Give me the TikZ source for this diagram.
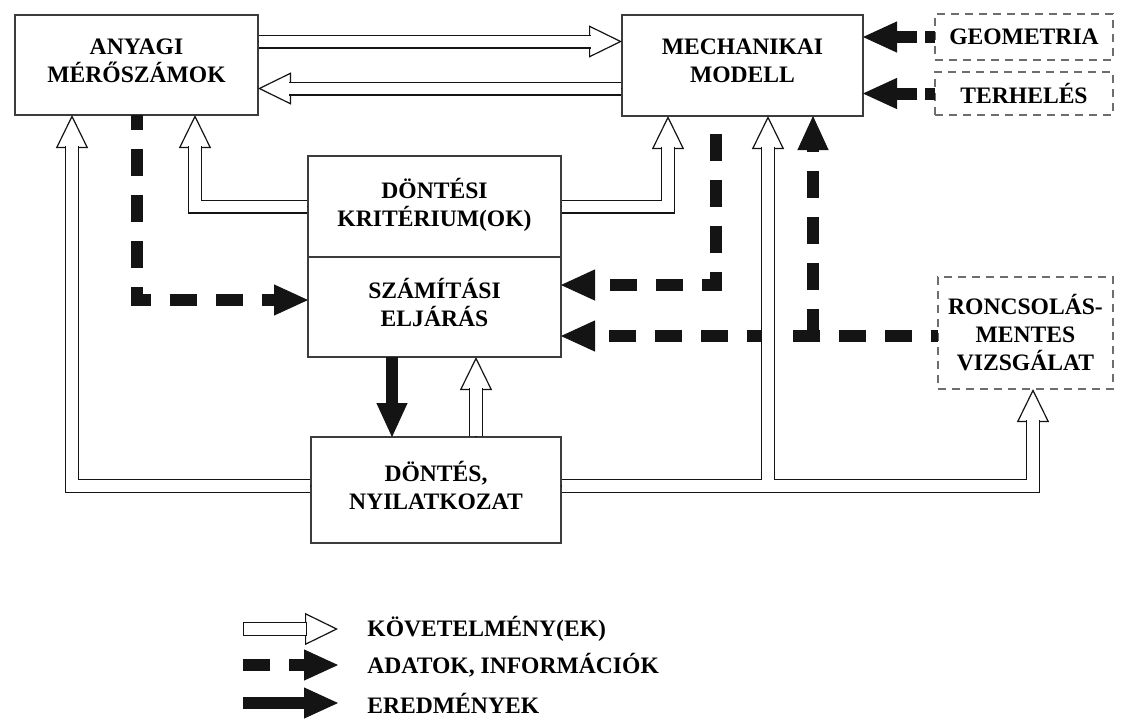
\documentclass[tikz,border=0pt]{standalone}
\usepackage{fontspec}
\setmainfont{Liberation Serif}
\usepackage{tikz}
\usetikzlibrary{arrows.meta}
\definecolor{ink}{HTML}{141414}
\definecolor{frame}{HTML}{3C3C3C}
\tikzset{box/.style={draw=frame,line width=0.6pt,inner sep=0pt,outer sep=0pt,align=center,font=\bfseries\fontsize{11.8}{14}\selectfont},
sbox/.style={box,text depth=4.5pt},
dbox/.style={box,draw=frame!75,dash pattern=on 4pt off 3pt},
req/.style={draw=ink,line width=0.6pt,-{Triangle[open,fill=white,length=16.5pt,width=16pt]},postaction={draw=ink,-,double=white,double distance=5.8pt,shorten >=15.7pt,shorten <=0.3pt}},
reqkey/.style={draw=ink,line width=0.6pt,-{Triangle[open,fill=white,length=16.5pt,width=16pt]},postaction={draw=ink,-,double=white,double distance=5.8pt,line cap=rect,shorten >=19pt,shorten <=3.5pt}},
res/.style={draw=ink,line width=6pt,-{Triangle[length=17pt,width=15.5pt,line width=0.5pt]}},
dat/.style={res,dash pattern=on 13.5pt off 9.5pt},
lbl/.style={anchor=west,inner sep=0pt,font=\bfseries\fontsize{11.8}{14}\selectfont}}

\begin{document}
\begin{tikzpicture}[x=0.5pt,y=-0.5pt]
\useasboundingbox (0,0) rectangle (1121,720);
\node[sbox,minimum width=121.5pt,minimum height=50pt] (anyagi) at (136.5,65) {ANYAGI\\MÉRŐSZÁMOK};
\node[sbox,minimum width=120.5pt,minimum height=50.5pt] (mech) at (742.5,65.5) {MECHANIKAI\\MODELL};
\node[dbox,minimum width=89pt,minimum height=23pt] (geom) at (1024,37) {GEOMETRIA};
\node[dbox,minimum width=89pt,minimum height=21.5pt] (terh) at (1024,93.5) {TERHELÉS};
\node[sbox,minimum width=126.5pt,minimum height=50.5pt] (krit) at (434.5,206.5) {DÖNTÉSI\\KRITÉRIUM(OK)};
\node[sbox,minimum width=126.5pt,minimum height=50pt] (szamit) at (434.5,307) {SZÁMÍTÁSI\\ELJÁRÁS};
\node[sbox,minimum width=125pt,minimum height=53pt] (dontes) at (436,490) {DÖNTÉS,\\NYILATKOZAT};
\node[dbox,minimum width=87.5pt,minimum height=56pt] (roncs) at (1025.5,333) {RONCSOLÁS-\\MENTES\\VIZSGÁLAT};
\node[lbl] (lreq) at (367,629) {KÖVETELMÉNY(EK)};
\node[lbl] (ldat) at (367,665) {ADATOK, INFORMÁCIÓK};
\node[lbl] (lres) at (367,703) {EREDMÉNYEK};
\coordinate (fork) at (768,480.2);
\coordinate (tee) at (813,336);

\draw[dat,dash phase=6pt] (anyagi.south -| 137,0) |- (szamit.west |- 0,300);
\draw[dat,dash phase=14pt] (mech.south -| 716,0) |- (szamit.east |- 0,285);
\draw[dat,dash phase=10pt] (roncs.west |- 0,336) -- (szamit.east |- 0,336);
\draw[dat] (tee) -- (mech.south -| tee);
\draw[dat,dash pattern=on 5pt off 4pt on 20pt off 4pt] (geom.west) -- (geom.west -| mech.east);
\draw[dat,dash pattern=on 5pt off 4pt on 20pt off 4pt] (terh.west) -- (terh.west -| mech.east);
\draw[res] (szamit.south -| 392,0) -- (dontes.north -| 392,0);

\draw[req] (anyagi.east |- 0,41.5) -- (mech.west |- 0,41.5);
\draw[req] (mech.west |- 0,88.5) -- (anyagi.east |- 0,88.5);
\draw[req] (krit.west) -| (anyagi.south -| 195,0);
\draw[req] (krit.east) -| (mech.south -| 668,0);
\draw[req] (dontes.north -| 476,0) -- (szamit.south -| 476,0);
\draw[req] (dontes.west |- 0,486) -| (anyagi.south -| 72,0);
\draw[req] (dontes.east |- 0,486) -| (roncs.south -| 1033,0);
\draw[req] (fork) -- (mech.south -| fork);

\draw[reqkey] ([xshift=-62pt]lreq.west) -- ([xshift=-14.5pt]lreq.west);
\draw[dat] ([xshift=-62pt]ldat.west) -- ([xshift=-14.5pt]ldat.west);
\draw[res] ([xshift=-62pt]lres.west) -- ([xshift=-14.5pt]lres.west);
\end{tikzpicture}
\end{document}
